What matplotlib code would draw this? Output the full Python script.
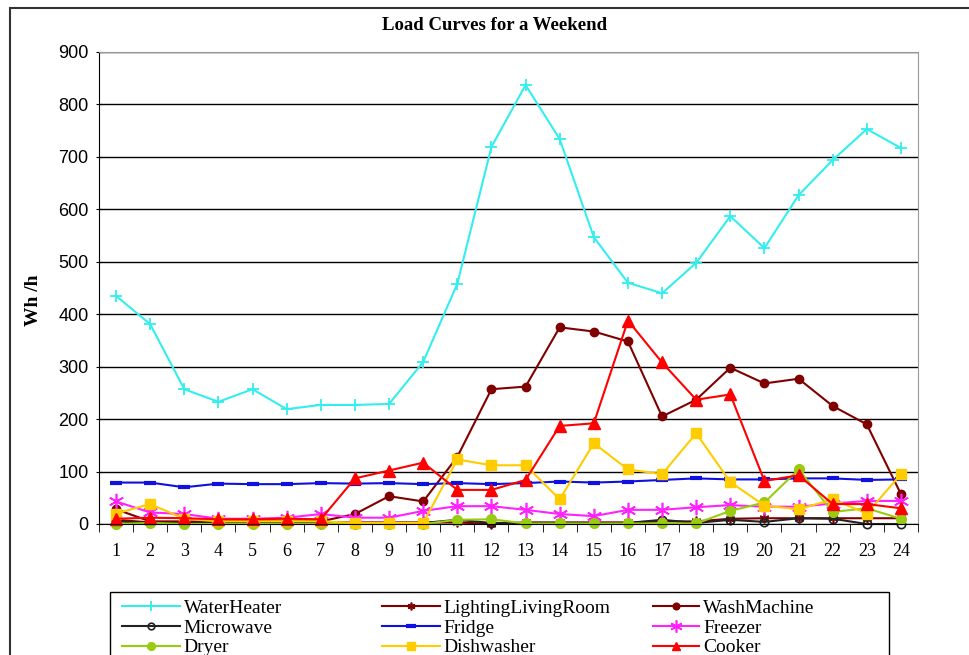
import numpy as np
import matplotlib
matplotlib.use("Agg")
import matplotlib.pyplot as plt
from matplotlib.patches import Rectangle

hours = list(range(1, 25))

water_heater = [435, 381, 257, 233, 257, 219, 227, 227, 229, 309, 458, 719,
                837, 734, 547, 460, 440, 498, 587, 526, 627, 694, 753, 717]
lighting = [8, 3, 3, 3, 3, 3, 3, 3, 3, 3, 3, 0,
            3, 3, 3, 3, 5, 5, 10, 11, 11, 11, 11, 11]
wash_machine = [28, 5, 5, 5, 5, 5, 5, 19, 53, 43, 128, 257,
                262, 375, 367, 348, 205, 237, 298, 268, 277, 225, 190, 57]
microwave = [5, 2, 2, 2, 2, 2, 2, 2, 2, 2, 8, 2,
             2, 2, 2, 2, 8, 2, 8, 4, 11, 10, 0, 0]
fridge = [79, 79, 70, 77, 76, 76, 78, 77, 78, 76, 78, 76,
          78, 81, 79, 81, 84, 87, 85, 85, 87, 87, 84, 85]
freezer = [43, 22, 19, 10, 10, 12, 19, 12, 12, 25, 34, 34,
           27, 19, 15, 27, 27, 32, 36, 33, 33, 39, 44, 44]
dryer = [0, 2, 0, 0, 0, 0, 0, 0, 0, 0, 8, 9,
         1, 1, 1, 1, 1, 1, 25, 41, 104, 23, 30, 10]
dishwasher = [20, 38, 10, 5, 5, 5, 5, 2, 2, 2, 123, 112,
              112, 47, 154, 104, 95, 173, 80, 35, 28, 47, 20, 95]
cooker = [10, 12, 11, 9, 9, 10, 9, 87, 102, 117, 65, 65,
          84, 187, 192, 388, 308, 237, 247, 82, 93, 38, 38, 30]

W, H = 970, 655
fig = plt.figure(figsize=(9.7, 6.55), dpi=100)
ax = fig.add_axes([99 / W, 1 - 524 / H, (918 - 99) / W, (524 - 52) / H])

serif = "Liberation Serif"
sans = "Liberation Sans"

series = [
    ("WaterHeater", water_heater, dict(color="#33EEEE", marker="+", ms=9, mew=1.3)),
    ("LightingLivingRoom", lighting, dict(color="#800000", marker=(6, 2, 0), ms=7, mew=1.2)),
    ("WashMachine", wash_machine, dict(color="#800000", marker="o", ms=6)),
    ("Microwave", microwave, dict(color="#222222", marker="o", ms=6, mfc="none", mew=1.2)),
    ("Fridge", fridge, dict(color="#1010E0", marker="_", ms=9, mew=3)),
    ("Freezer", freezer, dict(color="#FF22FF", marker=(6, 2, 0), ms=11, mew=1.2)),
    ("Dryer", dryer, dict(color="#99CC11", marker="o", ms=7)),
    ("Dishwasher", dishwasher, dict(color="#FFCC00", marker="s", ms=7)),
    ("Cooker", cooker, dict(color="#FF0000", marker="^", ms=8)),
]

handles = {}
for name, vals, st in series:
    (ln,) = ax.plot(hours, vals, lw=1.5, label=name, clip_on=False, **st)
    handles[name] = ln

ax.set_xlim(0.5, 24.5)
ax.set_ylim(0, 900)
ax.set_yticks(range(0, 901, 100))
ax.set_xticks(hours)
ax.set_xticks(np.arange(0.5, 25, 1), minor=True)
ax.tick_params(axis="x", which="major", length=0, pad=14)
ax.tick_params(axis="x", which="minor", length=6, direction="out", color="black")
ax.tick_params(axis="y", which="major", length=5, direction="inout", pad=5)
for lab in ax.get_yticklabels():
    lab.set_fontfamily(sans)
    lab.set_fontsize(13)
for lab in ax.get_xticklabels():
    lab.set_fontfamily(serif)
    lab.set_fontsize(13)

ax.yaxis.grid(True, color="black", lw=1)
ax.set_axisbelow(True)
ax.spines["top"].set_color("#999999")
ax.spines["right"].set_color("#999999")
ax.spines["left"].set_color("black")
ax.spines["bottom"].set_color("black")

ax.set_ylabel("Wh /h", fontfamily=serif, fontweight="bold", fontsize=14)
ax.yaxis.set_label_coords(-0.07, 0.475)
fig.text(495 / W, 1 - 25 / H, "Load Curves for a Weekend", fontfamily=serif,
         fontweight="bold", fontsize=13.5, ha="center", va="center")

# outer frame
fig.patches.append(Rectangle((10 / W, -0.1), 1.2, 1 - 8 / H + 0.1, transform=fig.transFigure,
                             fill=False, ec="#333333", lw=1.5))

# legend box
fig.patches.append(Rectangle((110 / W, -0.05), (889 - 110) / W, 1 - 592 / H + 0.05,
                             transform=fig.transFigure, fill=False, ec="black", lw=1))

cols = [
    (["WaterHeater", "Microwave", "Dryer"], 108, 3.0),
    (["LightingLivingRoom", "Fridge", "Dishwasher"], 368, 3.0),
    (["WashMachine", "Freezer", "Cooker"], 639, 2.4),
]
for names, x0, hl in cols:
    fig.legend([handles[n] for n in names], names, loc="upper left",
               bbox_to_anchor=(x0 / W, 1 - 586 / H), frameon=False,
               prop={"family": serif, "size": 14}, handlelength=hl,
               handletextpad=0.2, labelspacing=0.1, borderpad=0.2,
               markerscale=0.8)

fig.savefig("out.png", dpi=100)
